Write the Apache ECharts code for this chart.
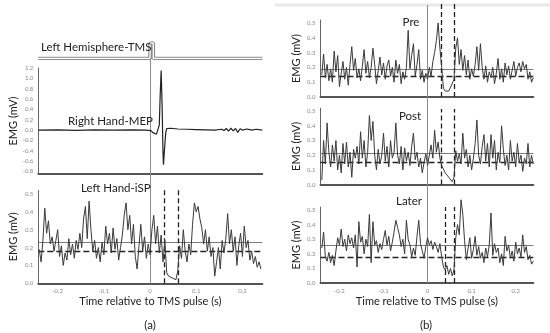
<!DOCTYPE html>
<html><head><meta charset="utf-8">
<script src="https://cdn.jsdelivr.net/npm/echarts@6/dist/echarts.min.js"></script>
<style>html,body{margin:0;padding:0;background:#fff}#c{width:550px;height:333px}</style>
</head><body><div id="c"></div>
<script>
// ---- sampling grid of the EMG traces (s) ----
const sampleStart = -0.24;
const sampleStep = 0.004;

// ---- (a) Left Hand iSP trace (mV) ----
const leftHandISP = [0.19,0.12,0.24,0.42,0.28,0.35,0.22,0.26,0.18,0.24,0.30,0.15,0.21,0.10,0.17,0.13,0.25,0.16,0.22,0.14,
0.24,0.19,0.28,0.20,0.36,0.43,0.25,0.46,0.30,0.18,0.24,0.14,0.20,0.12,0.23,0.16,0.32,0.22,0.28,0.17,
0.31,0.19,0.25,0.13,0.20,0.27,0.38,0.45,0.30,0.38,0.22,0.33,0.15,0.08,0.21,0.33,0.18,0.26,0.14,0.22,
0.16,0.30,0.38,0.22,0.32,0.17,0.27,0.12,0.24,0.06,0.04,0.05,0.03,0.04,0.02,0.07,0.21,0.14,0.30,0.18,
0.12,0.22,0.16,0.33,0.45,0.40,0.43,0.36,0.31,0.22,0.30,0.18,0.26,0.15,0.20,0.04,0.12,0.20,0.08,0.24,
0.17,0.25,0.39,0.22,0.30,0.18,0.26,0.10,0.21,0.28,0.15,0.32,0.20,0.24,0.13,0.18,0.11,0.15,0.09,0.12,0.08];

// ---- (b) traces (mV) ----
const preTrace = [0.15,0.29,0.13,0.22,0.11,0.19,0.10,0.31,0.17,0.28,0.07,0.16,0.24,0.12,0.20,0.08,0.22,0.34,0.18,0.26,
0.13,0.19,0.11,0.21,0.32,0.16,0.24,0.13,0.20,0.33,0.22,0.09,0.18,0.27,0.15,0.23,0.12,0.21,0.25,0.14,
0.20,0.10,0.25,0.16,0.22,0.09,0.17,0.12,0.20,0.45,0.19,0.28,0.36,0.14,0.22,0.32,0.12,0.18,0.10,0.16,
0.12,0.20,0.14,0.24,0.30,0.38,0.50,0.33,0.20,0.06,0.04,0.03,0.04,0.05,0.09,0.12,0.33,0.40,0.22,0.32,
0.18,0.28,0.15,0.25,0.12,0.19,0.14,0.22,0.34,0.18,0.36,0.20,0.12,0.21,0.10,0.17,0.13,0.20,0.09,0.16,
0.26,0.12,0.19,0.10,0.23,0.15,0.21,0.12,0.18,0.24,0.14,0.20,0.23,0.17,0.24,0.19,0.22,0.12,0.17,0.10,0.13];
const postTrace = [0.03,0.30,0.14,0.42,0.22,0.12,0.27,0.16,0.30,0.10,0.20,0.08,0.28,0.14,0.29,0.12,0.22,0.05,0.24,0.18,
0.26,0.14,0.36,0.18,0.30,0.12,0.22,0.47,0.30,0.43,0.20,0.10,0.24,0.14,0.20,0.35,0.16,0.26,0.12,0.30,
0.18,0.22,0.42,0.20,0.14,0.26,0.10,0.25,0.16,0.22,0.13,0.26,0.35,0.17,0.22,0.12,0.18,0.08,0.15,0.21,
0.13,0.20,0.27,0.18,0.37,0.22,0.29,0.18,0.13,0.12,0.08,0.07,0.05,0.04,0.02,0.05,0.23,0.16,0.21,0.14,
0.35,0.18,0.24,0.12,0.20,0.10,0.18,0.28,0.44,0.20,0.14,0.26,0.34,0.16,0.28,0.12,0.34,0.18,0.30,0.10,
0.22,0.15,0.40,0.24,0.13,0.20,0.10,0.30,0.16,0.22,0.12,0.28,0.15,0.20,0.09,0.18,0.14,0.28,0.12,0.20,0.14];
const laterTrace = [0.24,0.35,0.18,0.15,0.21,0.14,0.19,0.12,0.22,0.31,0.26,0.37,0.25,0.30,0.22,0.33,0.27,0.31,0.24,0.33,
0.11,0.42,0.28,0.32,0.20,0.30,0.25,0.47,0.14,0.42,0.26,0.29,0.21,0.27,0.23,0.30,0.36,0.26,0.32,0.22,
0.28,0.35,0.43,0.38,0.33,0.25,0.30,0.20,0.43,0.30,0.26,0.18,0.24,0.19,0.32,0.43,0.27,0.22,0.17,0.25,
0.31,0.26,0.29,0.23,0.28,0.25,0.21,0.27,0.18,0.11,0.09,0.12,0.06,0.10,0.05,0.09,0.31,0.40,0.33,0.57,
0.47,0.29,0.16,0.24,0.31,0.17,0.23,0.32,0.19,0.25,0.17,0.21,0.14,0.24,0.18,0.26,0.48,0.19,0.27,0.21,
0.24,0.14,0.20,0.12,0.32,0.22,0.26,0.17,0.22,0.15,0.28,0.20,0.24,0.18,0.33,0.21,0.25,0.16,0.19,0.13,0.15];

// ---- (a) Right hand MEP (s, mV) ----
const mepTime  = [-0.242,-0.2,-0.16,-0.12,-0.08,-0.04,-0.01,0.002,0.006,0.010,0.014,0.018,0.020,0.022,0.024,0.026,0.028,0.029,0.031,0.034,0.036,0.045,0.06,0.08,0.10,0.12,0.14,0.155,0.16,0.165,0.17,0.175,0.18,0.185,0.19,0.195,0.20,0.21,0.22,0.23,0.243];
const mepValue = [0.0,0.005,-0.005,0.005,0.0,0.005,0.0,-0.01,-0.05,-0.075,-0.08,-0.06,0.10,0.70,1.15,0.50,-0.45,-0.67,-0.40,-0.05,0.03,0.035,0.02,0.015,0.01,0.005,0.0,0.015,-0.01,0.03,-0.02,0.035,-0.015,0.03,-0.045,0.025,0.0,0.02,0.0,0.015,0.0];

// ---- TMS pulse marker ----
const tmsTime  = [-0.242,0,0,0.007,0.007,0.243];
const tmsValue = [0,0,1,1,0,0];

// ---- reference levels: [a, pre, post, later] ----
const solidMean   = [0.235,0.194,0.207,0.255];
const dashedMean  = [0.177,0.142,0.148,0.180];
const silentStart = [0.034,0.032,0.034,0.036];
const silentEnd   = [0.057,0.057,0.055,0.060];

const FONT = 'Lato';
const pairs = (vals) => vals.map((v,i)=>[+(sampleStart+i*sampleStep).toFixed(4), v]);
const zip = (xs, ys) => xs.map((x,i)=>[x, ys[i]]);

const A = {left:38.3, width:224, min:-0.242, max:0.243};
const B = {left:320.5, width:212.8, min:-0.243, max:0.240};

const grids = [
  {left:A.left, width:A.width, top:43, height:15.5},     //0 tms
  {left:A.left, width:A.width, top:68, height:106},      //1 mep
  {left:A.left, width:A.width, top:190.4, height:92.9},  //2 isp
  {left:A.left, width:A.width, top:58, height:225.3},    //3 zero line a
  {left:A.left, width:A.width, top:188, height:95.3},    //4 dashes a
  {left:B.left, width:B.width, top:20, height:77},       //5 pre
  {left:B.left, width:B.width, top:108.2, height:76.4},  //6 post
  {left:B.left, width:B.width, top:207.1, height:76},    //7 later
  {left:B.left, width:B.width, top:5, height:278.2},     //8 zero line b
  {left:B.left, width:B.width, top:3, height:94},        //9 pre dashes
  {left:B.left, width:B.width, top:109, height:75.6},    //10 post dashes
  {left:B.left, width:B.width, top:207, height:76.1}     //11 later dashes
];

const xFmt = v => { const r = Math.round(v*10)/10; return Math.abs(v-r)<1e-6 ? (r===0?'0':r.toFixed(1)) : ''; };
const yFmt = step => v => { const k = Math.round(v/step); return Math.abs(v-k*step)<1e-6 ? (k*step).toFixed(1) : ''; };
const tickLabel = {fontSize:6, color:'#8a8a8a', fontFamily:FONT};
const nameStyle = {fontSize:11, color:'#222', fontFamily:FONT};

function xAxisFor(i, P, opts) {
  opts = opts || {};
  const ax = {gridIndex:i, type:'value', min:P.min, max:P.max, minInterval:0.1, maxInterval:0.1,
    splitLine:{show:false}, axisTick:{show:false},
    axisLine:{show:!!opts.line, onZero:false, lineStyle:{color:'#555', width:2}},
    axisLabel:{show:!!opts.labels, formatter:xFmt, margin:5, ...tickLabel}, show: opts.hidden ? false : true};
  if (opts.name) { ax.name='Time relative to TMS pulse (s)'; ax.nameLocation='middle'; ax.nameGap=13; ax.nameTextStyle=nameStyle; }
  return ax;
}
function yAxisFor(i, min, max, step, opts) {
  opts = opts || {};
  if (opts.hidden) return {gridIndex:i, type:'value', min:0, max:1, show:false};
  const ax = {gridIndex:i, type:'value', min:min, max:max, splitLine:{show:false}, axisTick:{show:false},
    axisLine:{show:true, onZero:false, lineStyle:{color:'#666', width:1}},
    axisLabel:{formatter:yFmt(step), margin:5, ...tickLabel},
    name:'EMG (mV)', nameLocation:'middle', nameGap:19, nameTextStyle:nameStyle};
  if (opts.force) { ax.minInterval = step; ax.maxInterval = step; } else { ax.interval = step; }
  return ax;
}

const xAxes = [
  xAxisFor(0,A,{hidden:true}),
  xAxisFor(1,A,{line:true}),
  xAxisFor(2,A,{line:true, labels:true, name:true}),
  xAxisFor(3,A,{hidden:true}),
  xAxisFor(4,A,{hidden:true}),
  xAxisFor(5,B,{line:true}),
  xAxisFor(6,B,{line:true}),
  xAxisFor(7,B,{line:true, labels:true, name:true}),
  xAxisFor(8,B,{hidden:true}),
  xAxisFor(9,B,{hidden:true}),
  xAxisFor(10,B,{hidden:true}),
  xAxisFor(11,B,{hidden:true})
];
const yAxes = [
  {gridIndex:0, type:'value', min:0, max:1, show:false},
  yAxisFor(1,-0.85,1.2,0.2,{force:true}),
  yAxisFor(2,0,0.52,0.1),
  yAxisFor(3,0,1,1,{hidden:true}),
  yAxisFor(4,0,1,1,{hidden:true}),
  yAxisFor(5,0,0.52,0.1),
  yAxisFor(6,0,0.52,0.1),
  yAxisFor(7,0,0.52,0.1),
  yAxisFor(8,0,1,1,{hidden:true}),
  yAxisFor(9,0,1,1,{hidden:true}),
  yAxisFor(10,0,1,1,{hidden:true}),
  yAxisFor(11,0,1,1,{hidden:true})
];

const traceStyle = {color:'#3a3a3a', width:1};
function refLines(k) {
  return {silent:true, symbol:['none','none'], label:{show:false}, animation:false,
    data:[{yAxis:solidMean[k], lineStyle:{type:'solid', color:'#7a7a7a', width:1}},
          {yAxis:dashedMean[k], lineStyle:{type:[6,3], color:'#222', width:1.3}}]};
}
function vLines(list, style) {
  return {silent:true, symbol:['none','none'], label:{show:false}, animation:false,
    data:list.map(x=>({xAxis:x})), lineStyle:style};
}
const dashStyle = {type:[5,3], color:'#222', width:1.3};
const zeroStyle = {type:'solid', color:'#8c8c8c', width:1};

const series = [
  {type:'line', xAxisIndex:0, yAxisIndex:0, data:zip(tmsTime,tmsValue), showSymbol:false, lineStyle:{color:'#8a8a8a', width:3.6}, z:3},
  {type:'line', xAxisIndex:0, yAxisIndex:0, data:zip(tmsTime,tmsValue), showSymbol:false, lineStyle:{color:'#fff', width:1.3}, z:4},
  {type:'line', xAxisIndex:3, yAxisIndex:3, data:[], markLine:vLines([0], zeroStyle)},
  {type:'line', xAxisIndex:1, yAxisIndex:1, data:zip(mepTime,mepValue), showSymbol:false, lineStyle:{color:'#222', width:1.2}, z:5},
  {type:'line', xAxisIndex:2, yAxisIndex:2, data:pairs(leftHandISP), showSymbol:false, lineStyle:traceStyle, markLine:refLines(0), z:5},
  {type:'line', xAxisIndex:4, yAxisIndex:4, data:[], markLine:vLines([silentStart[0],silentEnd[0]], dashStyle)},
  {type:'line', xAxisIndex:8, yAxisIndex:8, data:[], markLine:vLines([0], zeroStyle)},
  {type:'line', xAxisIndex:5, yAxisIndex:5, data:pairs(preTrace), showSymbol:false, lineStyle:traceStyle, markLine:refLines(1), z:5, clip:false},
  {type:'line', xAxisIndex:6, yAxisIndex:6, data:pairs(postTrace), showSymbol:false, lineStyle:traceStyle, markLine:refLines(2), z:5, clip:false},
  {type:'line', xAxisIndex:7, yAxisIndex:7, data:pairs(laterTrace), showSymbol:false, lineStyle:traceStyle, markLine:refLines(3), z:5, clip:false},
  {type:'line', xAxisIndex:9, yAxisIndex:9, data:[], markLine:vLines([silentStart[1],silentEnd[1]], dashStyle)},
  {type:'line', xAxisIndex:10, yAxisIndex:10, data:[], markLine:vLines([silentStart[2],silentEnd[2]], dashStyle)},
  {type:'line', xAxisIndex:11, yAxisIndex:11, data:[], markLine:vLines([silentStart[3],silentEnd[3]], dashStyle)}
];

function label(text, x, y, align, size) {
  return {type:'text', x:x, y:y, z:10, silent:true,
    style:{text:text, fill:'#222', font: (size||11.5)+'px '+FONT, align:align||'left', verticalAlign:'middle'}};
}
const graphic = [
  {type:'line', silent:true, shape:{x1:275, y1:5, x2:550, y2:5}, style:{stroke:'#e8e8e8', lineWidth:3}},
  label('Left Hemisphere-TMS', 41, 47),
  label('Right Hand-MEP', 68, 121),
  label('Left Hand-iSP', 81, 188),
  label('Pre', 411, 22, 'center'),
  label('Post', 410, 116, 'center'),
  label('Later', 409, 201.5, 'center'),
  label('(a)', 150, 325, 'center'),
  label('(b)', 426, 325, 'center')
];

const chart = echarts.init(document.getElementById('c'), null, {renderer:'canvas'});
chart.setOption({animation:false, backgroundColor:'#fff', grid:grids, xAxis:xAxes, yAxis:yAxes, series:series, graphic:graphic});
</script></body></html>
